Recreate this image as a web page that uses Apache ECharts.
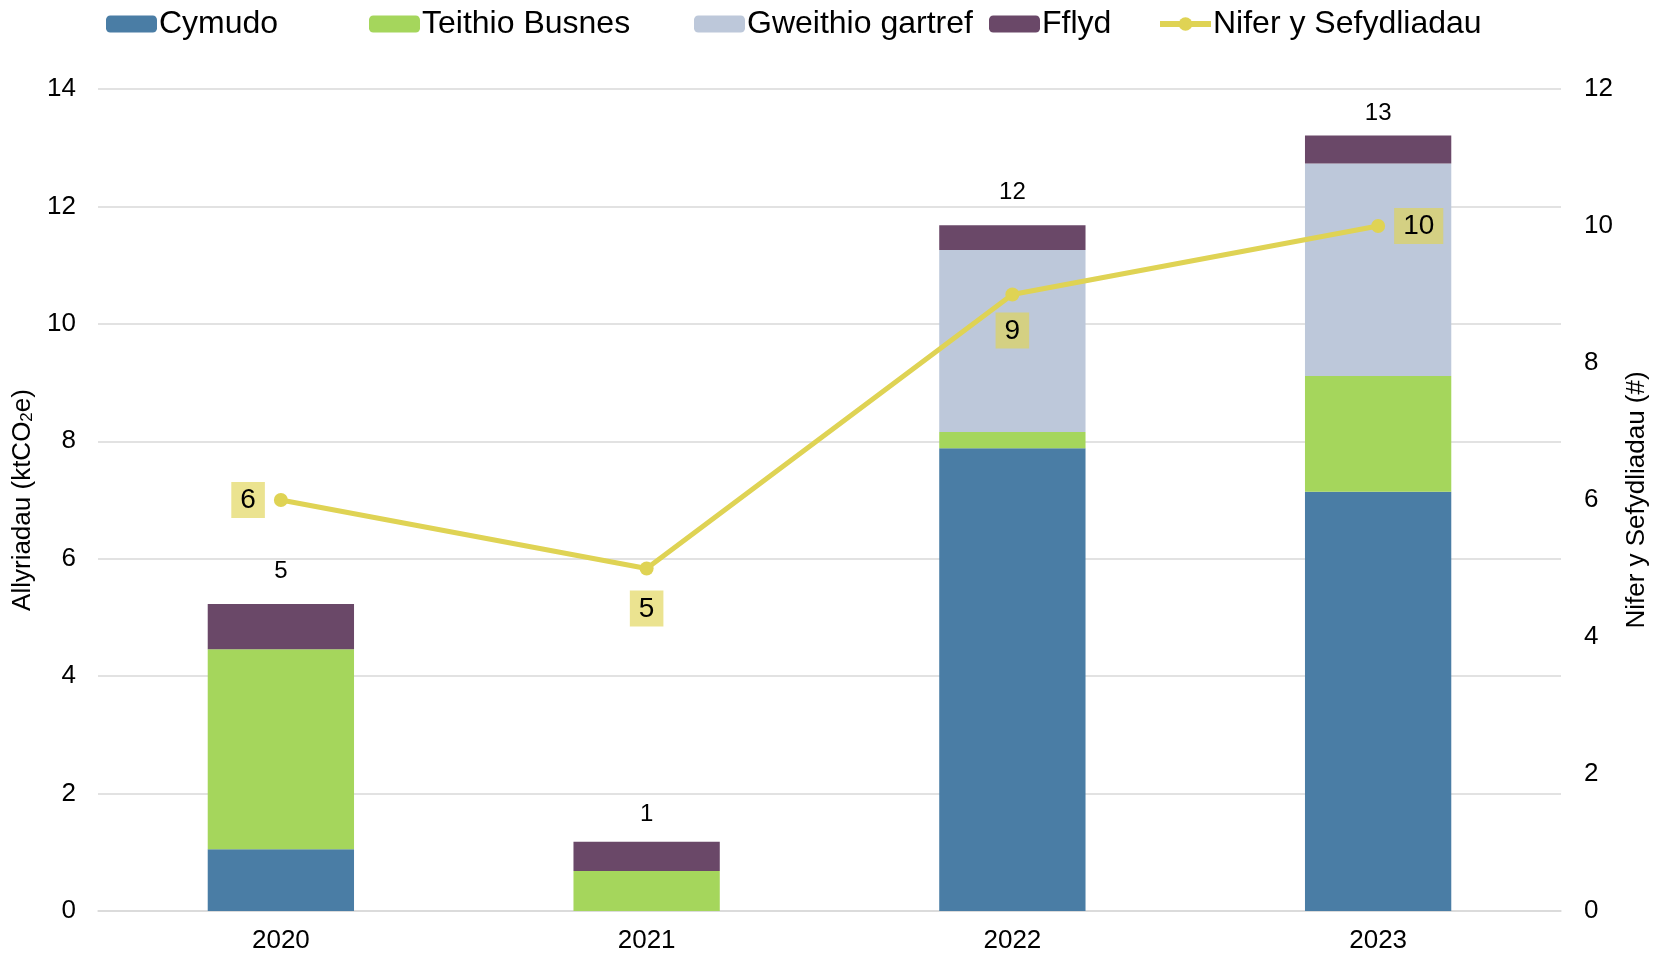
<!DOCTYPE html>
<html>
<head>
<meta charset="utf-8">
<script src="https://cdn.jsdelivr.net/npm/echarts@6/dist/echarts.min.js"></script>
<style>html,body{margin:0;padding:0;background:#fff}#c{width:1662px;height:957px}</style>
</head>
<body>
<div id="c"></div>
<script>
const categories = ['2020', '2021', '2022', '2023'];
const cymudo = [1.05, 0, 7.88, 7.14];
const teithioBusnes = [3.41, 0.68, 0.28, 1.97];
const gweithioGartref = [0, 0, 3.10, 3.62];
const fflyd = [0.77, 0.50, 0.42, 0.48];
const niferSefydliadau = [6, 5, 9, 10];
const leftTicks = [0, 2, 4, 6, 8, 10, 12, 14];
const rightTicks = [0, 2, 4, 6, 8, 10, 12];

const FONT = "'Liberation Sans', Arial, sans-serif";
const colors = {
  cymudo: '#4a7da5',
  teithio: '#a5d65c',
  gweithio: '#bdc8da',
  fflyd: '#6a4868',
  line: '#dfd354'
};
const totals = categories.map((c, i) => cymudo[i] + teithioBusnes[i] + gweithioGartref[i] + fflyd[i]);
const totalDist = [21, 15, 21, 10];
const linePos = ['left', 'bottom', 'bottom', 'right'];
const lineDist = [9, 15, 11, 9];

const chart = echarts.init(document.getElementById('c'), null, {renderer: 'canvas'});

function legend(name, left) {
  return {
    data: [name], left: left, top: 3, itemWidth: 51, itemHeight: 17, itemGap: 0,
    lineStyle: {width: 6},
    textStyle: {fontFamily: FONT, fontSize: 32, color: '#000', padding: [0, 0, 0, -3]}
  };
}

const barBase = {type: 'bar', stack: 'total', barWidth: '40%', yAxisIndex: 0};

chart.setOption({
  animation: false,
  textStyle: {fontFamily: FONT},
  legend: [
    legend('Cymudo', 101),
    legend('Teithio Busnes', 364),
    legend('Gweithio gartref', 689),
    legend('Fflyd', 984),
    legend('Nifer y Sefydliadau', 1152)
  ],
  grid: {left: 98, right: 101, top: 89, bottom: 46, containLabel: false},
  xAxis: {
    type: 'category', data: categories,
    axisLine: {show: true, lineStyle: {color: '#d9d9d9', width: 1.5}},
    axisTick: {show: false},
    axisLabel: {color: '#000', fontSize: 26, fontFamily: FONT, margin: 17}
  },
  yAxis: [{
    type: 'value', min: leftTicks[0], max: leftTicks[leftTicks.length - 1], interval: leftTicks[1] - leftTicks[0],
    axisLine: {show: false}, axisTick: {show: false},
    axisLabel: {color: '#000', fontSize: 26, fontFamily: FONT, margin: 22},
    splitLine: {show: true, lineStyle: {color: '#d9d9d9', width: 1.5}},
    name: 'Allyriadau (ktCO{sub|2}e)', nameLocation: 'middle', nameGap: 62, nameRotate: 90,
    nameTextStyle: {color: '#000', fontSize: 26, fontFamily: FONT,
      rich: {sub: {fontSize: 17, fontFamily: FONT, color: '#000', verticalAlign: 'bottom', padding: [10, 0, 0, 0]}}}
  }, {
    type: 'value', min: rightTicks[0], max: rightTicks[rightTicks.length - 1], interval: rightTicks[1] - rightTicks[0],
    position: 'right',
    axisLine: {show: false}, axisTick: {show: false},
    axisLabel: {color: '#000', fontSize: 26, fontFamily: FONT, margin: 23},
    splitLine: {show: false},
    name: 'Nifer y Sefydliadau (#)', nameLocation: 'middle', nameGap: 62, nameRotate: 90,
    nameTextStyle: {color: '#000', fontSize: 26, fontFamily: FONT}
  }],
  series: [
    Object.assign({}, barBase, {name: 'Cymudo', data: cymudo, itemStyle: {color: colors.cymudo}}),
    Object.assign({}, barBase, {name: 'Teithio Busnes', data: teithioBusnes, itemStyle: {color: colors.teithio}}),
    Object.assign({}, barBase, {name: 'Gweithio gartref', data: gweithioGartref, itemStyle: {color: colors.gweithio}}),
    Object.assign({}, barBase, {name: 'Fflyd', data: fflyd, itemStyle: {color: colors.fflyd}}),
    Object.assign({}, barBase, {
      name: 'totals', itemStyle: {color: 'transparent'},
      data: categories.map((c, i) => ({value: 0, label: {distance: totalDist[i]}})),
      label: {show: true, position: 'top', color: '#000', fontSize: 24, fontFamily: FONT,
        formatter: p => String(Math.round(totals[p.dataIndex]))}
    }),
    {
      name: 'Nifer y Sefydliadau', type: 'line', yAxisIndex: 1, z: 5,
      data: niferSefydliadau.map((v, i) => ({
        value: v,
        label: {position: linePos[i], distance: lineDist[i]}
      })),
      lineStyle: {color: colors.line, width: 5},
      itemStyle: {color: colors.line},
      symbol: 'circle', symbolSize: 14,
      label: {show: true, color: '#000', fontSize: 28, fontFamily: FONT,
        backgroundColor: 'rgba(224,212,84,0.65)', padding: [5, 9, 3, 9]}
    }
  ]
});
</script>
</body>
</html>
